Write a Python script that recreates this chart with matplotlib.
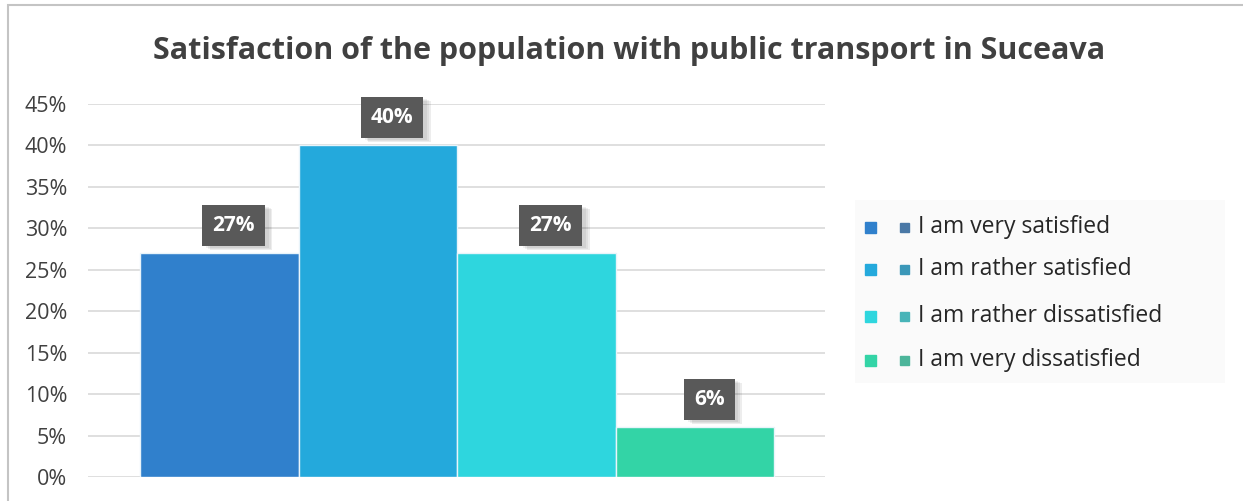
import matplotlib.pyplot as plt
from matplotlib.patches import Rectangle
import numpy as np

categories = ["I am very satisfied", "I am rather satisfied",
              "I am rather dissatisfied", "I am very dissatisfied"]
values = [27, 40, 27, 6]
labels = ["27%", "40%", "27%", "6%"]
yticks = [0, 5, 10, 15, 20, 25, 30, 35, 40, 45]

bar_colors = ["#3080CC", "#24A9DC", "#2ED6DE", "#33D4A6"]
legend_inner = ["#4A78A6", "#3B97B8", "#48B4B8", "#4CB59A"]

plt.rcParams['font.family'] = ['Open Sans', 'DejaVu Sans']

fig = plt.figure(figsize=(12.43, 5.01), dpi=100)
W, H = 1243, 501

# outer frame of the chart (right side runs off the canvas)
fig.patches.append(Rectangle((8 / W, -0.01), (1300 - 8) / W, 1.01 - 5 / H,
                             transform=fig.transFigure, fill=False,
                             edgecolor="#C4C4C4", linewidth=1.5))

ax = fig.add_axes([88 / W, 1 - 477 / H, (825 - 88) / W, (477 - 104) / H])
x = np.arange(len(values))
ax.bar(x, values, width=1.0, color=bar_colors,
       edgecolor="#E8F4FA", linewidth=1, zorder=2)
ax.set_xlim(-0.828, 3.82)
ax.set_ylim(0, 45)
ax.set_yticks(yticks)
ax.set_yticklabels([f"{t}%" for t in yticks], fontsize=15.5, color="#404040")
ax.set_xticks([])
ax.tick_params(axis="y", length=0, pad=15)
ax.grid(axis="y", color="#D9D9D9", linewidth=1.2, zorder=0)
for s in ax.spines.values():
    s.set_visible(False)

# value boxes above the bars, with a soft shadow
to_units = 45 / (477 - 104)
for xi, v, lab in zip(x, values, labels):
    xc = xi + 0.09
    yc = v + 28 * to_units
    for k, a in enumerate([0.06, 0.06, 0.07]):
        off = (k + 2) * 0.012
        ax.text(xc + off, yc - (k + 2) * 1.0 * to_units, lab, ha="center",
                va="center", fontsize=15, fontweight="bold", alpha=0.0, zorder=3,
                bbox=dict(boxstyle="square,pad=0.48", fc="#000000", ec="none", alpha=a))
    ax.text(xc, yc, lab, ha="center", va="center", fontsize=15,
            fontweight="bold", color="white", zorder=4,
            bbox=dict(boxstyle="square,pad=0.48", fc="#595959", ec="none"))

fig.suptitle("Satisfaction of the population with public transport in Suceava",
             x=629 / W, y=1 - 51 / H, va="center", fontsize=22,
             fontweight="bold", color="#404040")

# legend drawn by hand: outer square, small inner square, label
fig.patches.append(Rectangle((855 / W, 1 - 383 / H), (1225 - 855) / W, (383 - 200) / H,
                             transform=fig.transFigure, facecolor="#FAFAFA",
                             edgecolor="none"))
rows = [227, 269, 316, 360]
for yr, c, ci, name in zip(rows, bar_colors, legend_inner, categories):
    fig.patches.append(Rectangle((865 / W, 1 - (yr + 6) / H), 11 / W, 11 / H,
                                 transform=fig.transFigure, color=c))
    fig.patches.append(Rectangle((900 / W, 1 - (yr + 5) / H), 9 / W, 9 / H,
                                 transform=fig.transFigure, color=ci))
    fig.text(918 / W, 1 - yr / H, name, ha="left", va="center",
             fontsize=16.5, color="#262626")

fig.savefig("out.png", dpi=100)
